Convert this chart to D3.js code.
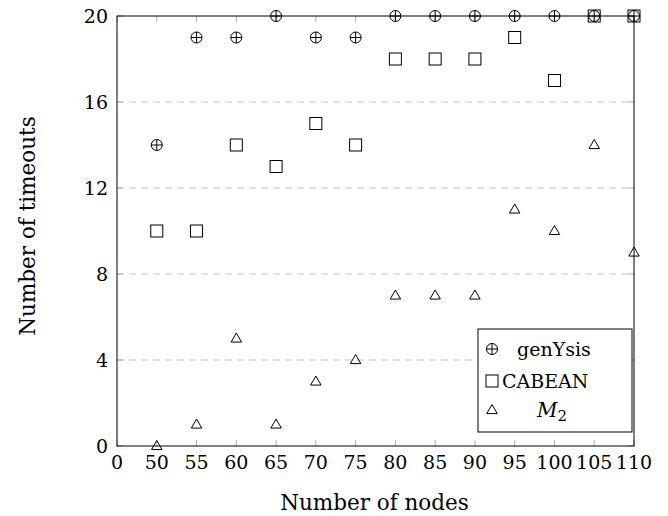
<!DOCTYPE html>
<html>
<head>
<meta charset="utf-8">
<script src="https://cdn.jsdelivr.net/npm/d3@7"></script>
<style>
  body { margin: 0; background: #fff; }
  text { font-family: "DejaVu Serif", "Liberation Serif", serif; fill: #000; }
</style>
</head>
<body>
<div id="chart"></div>
<script>
var nodes = ["0", "50", "55", "60", "65", "70", "75", "80", "85", "90", "95", "100", "105", "110"];
var genYsis = [
  { n: "50", v: 14 }, { n: "55", v: 19 }, { n: "60", v: 19 }, { n: "65", v: 20 },
  { n: "70", v: 19 }, { n: "75", v: 19 }, { n: "80", v: 20 }, { n: "85", v: 20 },
  { n: "90", v: 20 }, { n: "95", v: 20 }, { n: "100", v: 20 }, { n: "105", v: 20 },
  { n: "110", v: 20 }
];
var cabean = [
  { n: "50", v: 10 }, { n: "55", v: 10 }, { n: "60", v: 14 }, { n: "65", v: 13 },
  { n: "70", v: 15 }, { n: "75", v: 14 }, { n: "80", v: 18 }, { n: "85", v: 18 },
  { n: "90", v: 18 }, { n: "95", v: 19 }, { n: "100", v: 17 }, { n: "105", v: 20 },
  { n: "110", v: 20 }
];
var m2 = [
  { n: "50", v: 0 }, { n: "55", v: 1 }, { n: "60", v: 5 }, { n: "65", v: 1 },
  { n: "70", v: 3 }, { n: "75", v: 4 }, { n: "80", v: 7 }, { n: "85", v: 7 },
  { n: "90", v: 7 }, { n: "95", v: 11 }, { n: "100", v: 10 }, { n: "105", v: 14 },
  { n: "110", v: 9 }
];
var yTicks = [0, 4, 8, 12, 16, 20];

var W = 668, H = 516;
var margin = { top: 16, right: 34, bottom: 70, left: 117 },
  width = W - margin.left - margin.right,
  height = H - margin.top - margin.bottom;

var x = d3.scalePoint().domain(nodes).range([0, width]);
var y = d3.scaleLinear().domain([0, 20]).range([height, 0]);

var svg = d3.select("#chart").append("svg")
  .attr("width", W)
  .attr("height", H);

var g = svg.append("g")
  .attr("transform", `translate(${margin.left}, ${margin.top})`);

// dashed grid
g.selectAll(".grid")
  .data(yTicks.filter(d => d > 0 && d < 20))
  .enter().append("line")
  .attr("class", "grid")
  .attr("x1", 0).attr("x2", width)
  .attr("y1", d => y(d)).attr("y2", d => y(d))
  .style("stroke", "#c4c4c4")
  .style("stroke-width", 1)
  .style("stroke-dasharray", "7,5");

// inner ticks, bottom + top
var tickCol = "#b0b0b0";
g.selectAll(".xtick-b").data(nodes).enter().append("line")
  .attr("x1", d => x(d)).attr("x2", d => x(d))
  .attr("y1", height).attr("y2", height - 6)
  .style("stroke", tickCol);
g.selectAll(".xtick-t").data(nodes).enter().append("line")
  .attr("x1", d => x(d)).attr("x2", d => x(d))
  .attr("y1", 0).attr("y2", 6)
  .style("stroke", tickCol);
g.selectAll(".ytick-l").data(yTicks).enter().append("line")
  .attr("x1", 0).attr("x2", 6)
  .attr("y1", d => y(d)).attr("y2", d => y(d))
  .style("stroke", tickCol);
g.selectAll(".ytick-r").data(yTicks).enter().append("line")
  .attr("x1", width - 6).attr("x2", width)
  .attr("y1", d => y(d)).attr("y2", d => y(d))
  .style("stroke", tickCol);

// frame
g.append("rect")
  .attr("width", width).attr("height", height)
  .attr("fill", "none")
  .style("stroke", "#000")
  .style("stroke-width", 1);

// tick labels
g.selectAll(".xlab").data(nodes).enter().append("text")
  .attr("x", d => x(d))
  .attr("y", height + 23)
  .attr("text-anchor", "middle")
  .style("font-size", "19px")
  .text(d => d);
g.selectAll(".ylab").data(yTicks).enter().append("text")
  .attr("x", -9)
  .attr("y", d => y(d))
  .attr("dy", "0.36em")
  .attr("text-anchor", "end")
  .style("font-size", "19px")
  .text(d => d);

// axis titles
svg.append("text")
  .attr("x", margin.left + width / 2 - 1)
  .attr("y", 510)
  .attr("text-anchor", "middle")
  .style("font-size", "21.5px")
  .text("Number of nodes");
svg.append("text")
  .attr("transform", "translate(35, 226) rotate(-90)")
  .attr("text-anchor", "middle")
  .style("font-size", "21.5px")
  .text("Number of timeouts");

// markers
function drawOplus(sel, r) {
  sel.append("circle").attr("r", r)
    .attr("fill", "none").style("stroke", "#000").style("stroke-width", 1);
  sel.append("line").attr("x1", -r).attr("x2", r)
    .style("stroke", "#000").style("stroke-width", 1);
  sel.append("line").attr("y1", -r).attr("y2", r)
    .style("stroke", "#000").style("stroke-width", 1);
}
function drawSquare(sel, s) {
  sel.append("rect").attr("x", -s).attr("y", -s)
    .attr("width", 2 * s).attr("height", 2 * s)
    .attr("fill", "none").style("stroke", "#000").style("stroke-width", 1);
}
function drawTri(sel, s) {
  sel.append("path")
    .attr("d", `M0,${-s} L${s * 0.95},${s * 0.65} L${-s * 0.95},${s * 0.65} Z`)
    .attr("fill", "none").style("stroke", "#000").style("stroke-width", 1);
}

var gG = g.selectAll(".gen").data(genYsis).enter().append("g")
  .attr("transform", d => `translate(${x(d.n)}, ${y(d.v)})`);
drawOplus(gG, 5.5);
var gC = g.selectAll(".cab").data(cabean).enter().append("g")
  .attr("transform", d => `translate(${x(d.n)}, ${y(d.v)})`);
drawSquare(gC, 6);
var gM = g.selectAll(".m2").data(m2).enter().append("g")
  .attr("transform", d => `translate(${x(d.n)}, ${y(d.v)})`);
drawTri(gM, 5.5);

// legend
var lg = svg.append("g").attr("transform", "translate(478, 329)");
lg.append("rect").attr("width", 154).attr("height", 103)
  .attr("fill", "#fff").style("stroke", "#000").style("stroke-width", 1);
drawOplus(lg.append("g").attr("transform", "translate(14, 20)"), 5.5);
drawSquare(lg.append("g").attr("transform", "translate(14, 52)"), 6);
drawTri(lg.append("g").attr("transform", "translate(14, 81)"), 5.5);
lg.append("text").attr("x", 76).attr("y", 27).attr("text-anchor", "middle")
  .style("font-size", "19px").text("genYsis");
lg.append("text").attr("x", 24).attr("y", 59)
  .style("font-size", "19px").text("CABEAN");
var mt = lg.append("text").attr("x", 74).attr("y", 88).attr("text-anchor", "middle")
  .style("font-size", "20px");
mt.append("tspan").style("font-style", "italic").text("M");
mt.append("tspan").attr("dy", 4).style("font-size", "15px").text("2");
</script>
</body>
</html>
